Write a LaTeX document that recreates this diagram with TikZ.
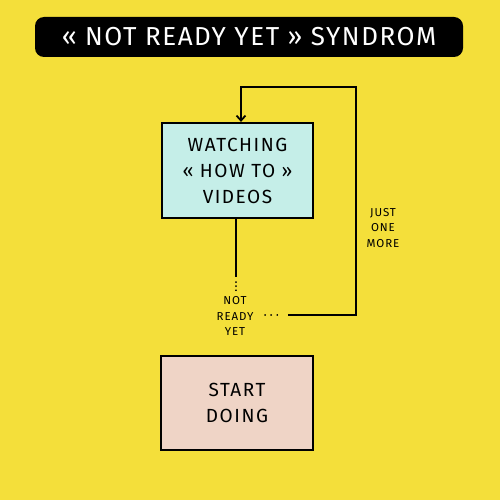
\documentclass[tikz,border=0pt]{standalone}
\usepackage{fontspec}
\setmainfont{Fira Sans}
\usetikzlibrary{arrows.meta,calc}
\definecolor{bgyellow}{HTML}{F4DF3A}
\definecolor{boxcyan}{HTML}{C5EEE8}
\definecolor{boxpink}{HTML}{EFD4C6}
\tikzset{
  flowbox/.style={draw=black,line width=2.2pt,minimum width=151pt,minimum height=95pt,inner sep=0pt,align=center,font=\fontsize{19}{26}\selectfont\addfontfeatures{LetterSpace=8}},
  smalllabel/.style={align=center,inner sep=0pt,font=\fontsize{11.5}{15.5}\selectfont\addfontfeatures{LetterSpace=8}},
  conn/.style={line width=1.8pt,black},
  dotted line/.style={line width=1.8pt,black,dash pattern=on 0.1pt off 4pt,line cap=round},
  wide dots/.style={line width=1.8pt,black,dash pattern=on 0.1pt off 6pt,line cap=round}
}
\begin{document}
\begin{tikzpicture}[x=1pt,y=-1pt]
\fill[bgyellow] (0,0) rectangle (500,500);
\useasboundingbox (0,0) rectangle (500,500);
% title
\node[fill=black,rounded corners=9pt,minimum width=428pt,minimum height=40pt,inner sep=0pt,text=white,font=\fontsize{26}{30}\selectfont\addfontfeatures{LetterSpace=6}] (title) at (249,37) {« NOT READY YET » SYNDROM};
% boxes
\node[flowbox,fill=boxcyan] (watch) at (237.5,170.5) {WATCHING\\« HOW TO »\\VIDEOS};
\node[flowbox,fill=boxpink,minimum width=152pt,minimum height=94pt] (start) at (237,403) {START\\DOING};
% labels
\node[smalllabel] (notready) at (235,316) {NOT\\READY\\YET};
\node[smalllabel] (justone) at (383,228) {JUST\\ONE\\MORE};
% connectors
\coordinate (d1) at (236,277);
\coordinate (d2) at (236,290.5);
\coordinate (h0) at (265,315);
\coordinate (h1) at (288,315);
\coordinate (c1) at (356,315);
\coordinate (c2) at (356,87);
\coordinate (c3) at (241,87);
\draw[conn] (watch.south -| d1) -- (d1);
\draw[dotted line] (236,282) -- (d2);
\draw[wide dots] (h0) -- (277.5,315);
\draw[conn,-{Straight Barb[length=5pt,width=9pt]}] (h1) -- (c1) -- (c2) -- (c3) -- (c3 |- watch.north);
\end{tikzpicture}
\end{document}
